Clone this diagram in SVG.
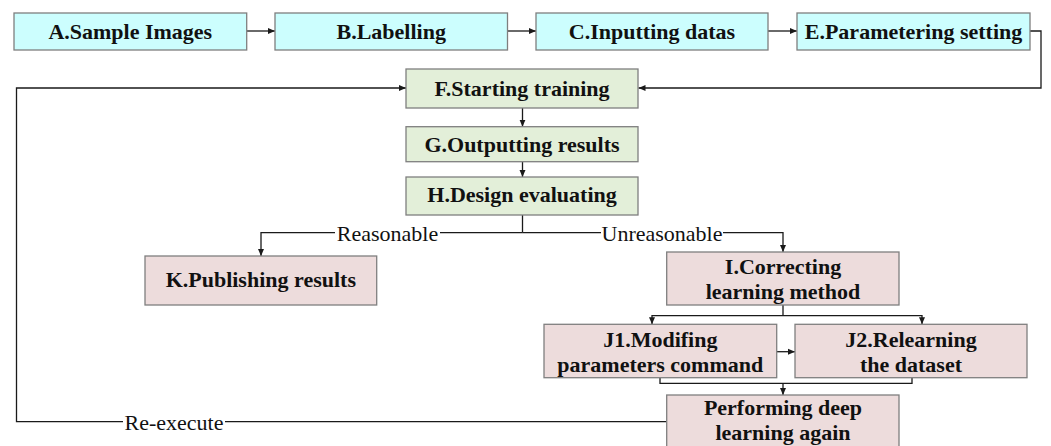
<svg xmlns="http://www.w3.org/2000/svg" width="1051" height="446" viewBox="0 0 1051 446" font-family="Liberation Serif, Times New Roman, serif">
<defs>
<marker id="ah" markerWidth="8" markerHeight="8" refX="7" refY="4" orient="auto" markerUnits="userSpaceOnUse">
<path d="M0,1 L7,4 L0,7 Z" fill="#1a1a1a"/>
</marker>
<style>
.bx{stroke:#7f7f7f;stroke-width:1.3}
.cy{fill:#ccfefe}
.gr{fill:#e3efd9}
.pk{fill:#eddcdc}
text{font-family:'Liberation Serif','Times New Roman',serif}
.t{font-weight:bold;font-size:22px;fill:#111;text-anchor:middle}
.l{font-size:22px;fill:#111;text-anchor:middle}
.c{fill:none;stroke:#1a1a1a;stroke-width:1.3}
.a{marker-end:url(#ah)}
</style>
</defs>
<rect width="1051" height="446" fill="#ffffff"/>
<g id="connectors">
<path class="c a" d="M246.7,31 H275"/>
<path class="c a" d="M507.5,31 H536"/>
<path class="c a" d="M768,31 H797"/>
<path class="c a" d="M1030,31 H1041 V88 H638.5"/>
<path class="c a" d="M522.5,108 V126.7"/>
<path class="c a" d="M522.5,162 V177"/>
<path class="c" d="M522.5,215 V232.7"/>
<path class="c" d="M522.5,232.7 H440"/>
<path class="c a" d="M335,232.7 H261 V256"/>
<path class="c" d="M522.5,232.7 H601"/>
<path class="c a" d="M723,232.7 H783 V252"/>
<path class="c" d="M783,305 V315.7"/>
<path class="c a" d="M783,315.7 H652 V324.3"/>
<path class="c a" d="M783,315.7 H922 V324.3"/>
<path class="c a" d="M777,351.7 H795"/>
<path class="c" d="M660,378 V383.3 H912 V378"/>
<path class="c a" d="M783,383.3 V395"/>
<path class="c" d="M666.7,421.7 H225"/>
<path class="c a" d="M123,421.7 H16.5 V88 H406"/>
<text class="l" x="387.5" y="240.5">Reasonable</text>
<text class="l" x="662" y="240.5">Unreasonable</text>
<text class="l" x="174" y="429.5">Re-execute</text>
</g>
<g id="A">
<rect class="bx cy" x="14" y="13" width="232.7" height="37"/>
<text class="t" x="130.3" y="39">A.Sample Images</text>
</g>
<g id="B">
<rect class="bx cy" x="275" y="13" width="232.5" height="37"/>
<text class="t" x="391.2" y="39">B.Labelling</text>
</g>
<g id="C">
<rect class="bx cy" x="536" y="13" width="232" height="37"/>
<text class="t" x="652" y="39">C.Inputting datas</text>
</g>
<g id="E">
<rect class="bx cy" x="797" y="13" width="233" height="37"/>
<text class="t" x="913.5" y="39">E.Parametering setting</text>
</g>
<g id="F">
<rect class="bx gr" x="406" y="69" width="232" height="39"/>
<text class="t" x="522" y="95.5">F.Starting training</text>
</g>
<g id="G">
<rect class="bx gr" x="406" y="126.7" width="232" height="35"/>
<text class="t" x="522" y="151.7">G.Outputting results</text>
</g>
<g id="H">
<rect class="bx gr" x="406" y="177" width="232" height="38"/>
<text class="t" x="522" y="202">H.Design evaluating</text>
</g>
<g id="K">
<rect class="bx pk" x="145" y="256" width="231.7" height="49"/>
<text class="t" x="260.8" y="287">K.Publishing results</text>
</g>
<g id="I">
<rect class="bx pk" x="666.7" y="252" width="232.3" height="53"/>
<text class="t" x="783" y="273.5">I.Correcting</text>
<text class="t" x="783" y="298.5">learning method</text>
</g>
<g id="J1">
<rect class="bx pk" x="544" y="324.3" width="232.7" height="53.4"/>
<text class="t" x="660.3" y="346.7">J1.Modifing</text>
<text class="t" x="660.3" y="371.7">parameters command</text>
</g>
<g id="J2">
<rect class="bx pk" x="795" y="324.3" width="232" height="53.4"/>
<text class="t" x="911" y="346.7">J2.Relearning</text>
<text class="t" x="911" y="371.7">the dataset</text>
</g>
<g id="P">
<rect class="bx pk" x="666.7" y="395" width="232.3" height="60"/>
<text class="t" x="783" y="415">Performing deep</text>
<text class="t" x="783" y="440">learning again</text>
</g>
</svg>
